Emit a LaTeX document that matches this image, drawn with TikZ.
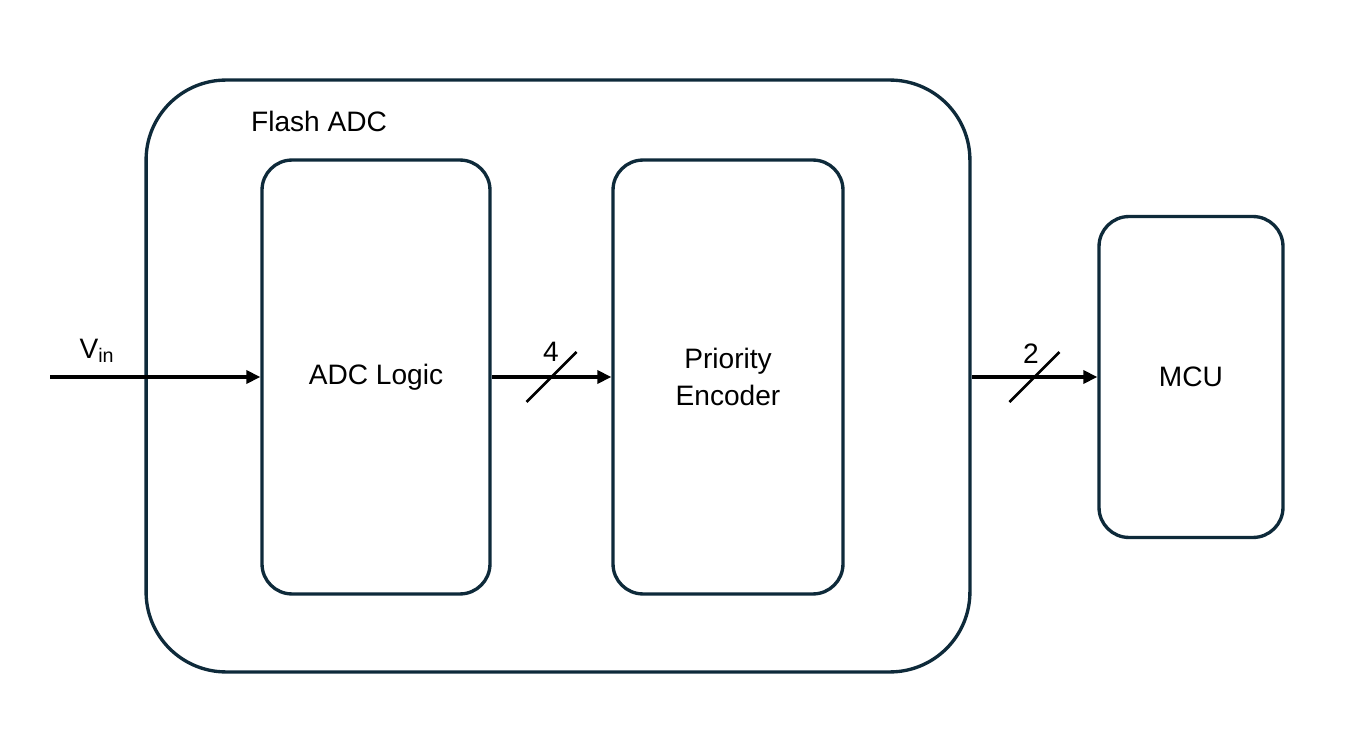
\documentclass[tikz,border=0pt]{standalone}
\usepackage{fontspec}
\setmainfont{Liberation Sans}
\usetikzlibrary{arrows.meta,positioning,calc}
\definecolor{boxline}{HTML}{0E2A3A}

\begin{document}
\begin{tikzpicture}[x=0.02cm,y=0.02cm,>={Triangle[length=0.28cm,width=0.26cm]},
  block/.style={draw=boxline,line width=1.9pt,rounded corners=0.6cm,align=center,
    font=\fontsize{16}{21}\selectfont},
  bus/.style={->,line width=2.4pt},
  slash/.style={line width=1.5pt},
  txt/.style={font=\fontsize{16}{21}\selectfont,inner sep=1pt}]
  \useasboundingbox (0,0) rectangle (1360,755);
  % boxes
  \node[block,rounded corners=1.6cm,minimum width=16.48cm,minimum height=11.84cm] (flash) at (558,379) {};
  \node[block,minimum width=4.56cm,minimum height=8.68cm] (adc) at (376,378) {ADC Logic};
  \node[block,minimum width=4.6cm,minimum height=8.68cm] (enc) at (728,378) {Priority\\Encoder};
  \node[block,minimum width=3.68cm,minimum height=6.42cm] (mcu) at (1191,378) {MCU};
  \node[txt,anchor=west] (title) at (249,634) {Flash ADC};
  % signals
  \coordinate (vin) at (50,378);
  \node[txt] (vinlbl) at (97,404) {V\textsubscript{in}};
  \draw[bus] (vin) -- (adc.west);
  \draw[bus] (adc.east) -- (enc.west);
  \draw[bus] (flash.east |- mcu.west) -- (mcu.west);
  % bus widths
  \coordinate (s4) at ($(adc.east)!0.5!(enc.west)$);
  \draw[slash] ([shift={(-25,-25)}]s4) -- ([shift={(25,25)}]s4);
  \node[txt] (w4) at (551,403) {4};
  \coordinate (s2) at ($(flash.east |- mcu.west)!0.5!(mcu.west)$);
  \draw[slash] ([shift={(-25,-25)}]s2) -- ([shift={(25,25)}]s2);
  \node[txt] (w2) at (1031,401) {2};
\end{tikzpicture}
\end{document}
